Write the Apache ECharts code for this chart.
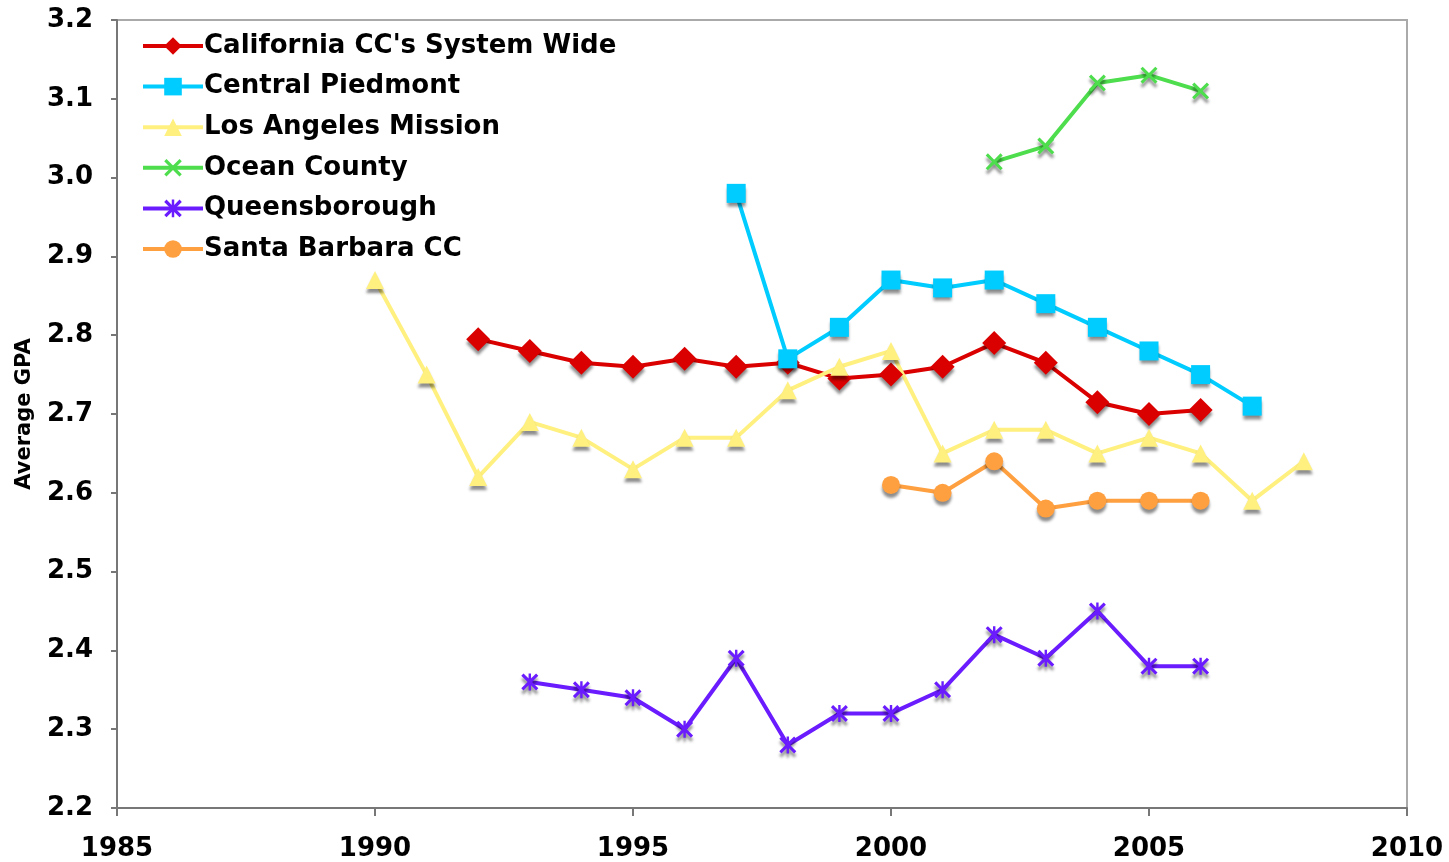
<!DOCTYPE html>
<html>
<head>
<meta charset="utf-8">
<script src="https://cdn.jsdelivr.net/npm/echarts@6/dist/echarts.min.js"></script>
<style>
  html, body { margin: 0; padding: 0; background: #fff; }
  #chart { width: 1449px; height: 862px; }
</style>
</head>
<body>
<div id="chart"></div>
<script>
const caliYears = [1992, 1993, 1994, 1995, 1996, 1997, 1998, 1999, 2000, 2001, 2002, 2003, 2004, 2005, 2006]
const caliGpa = [2.795, 2.78, 2.765, 2.76, 2.77, 2.76, 2.765, 2.745, 2.75, 2.76, 2.79, 2.765, 2.715, 2.70, 2.705]

const piedmontYears = [1997, 1998, 1999, 2000, 2001, 2002, 2003, 2004, 2005, 2006, 2007]
const piedmontGpa = [2.98, 2.77, 2.81, 2.87, 2.86, 2.87, 2.84, 2.81, 2.78, 2.75, 2.71]

const missionYears = [1990, 1991, 1992, 1993, 1994, 1995, 1996, 1997, 1998, 1999, 2000, 2001, 2002, 2003, 2004, 2005, 2006, 2007, 2008]
const missionGpa = [2.87, 2.75, 2.62, 2.69, 2.67, 2.63, 2.67, 2.67, 2.73, 2.76, 2.78, 2.65, 2.68, 2.68, 2.65, 2.67, 2.65, 2.59, 2.64]

const oceanYears = [2002, 2003, 2004, 2005, 2006]
const oceanGpa = [3.02, 3.04, 3.12, 3.13, 3.11]

const queensYears = [1993, 1994, 1995, 1996, 1997, 1998, 1999, 2000, 2001, 2002, 2003, 2004, 2005, 2006]
const queensGpa = [2.36, 2.35, 2.34, 2.30, 2.39, 2.28, 2.32, 2.32, 2.35, 2.42, 2.39, 2.45, 2.38, 2.38]

const barbaraYears = [2000, 2001, 2002, 2003, 2004, 2005, 2006]
const barbaraGpa = [2.61, 2.60, 2.64, 2.58, 2.59, 2.59, 2.59]

const seriesNames = [
  "California CC's System Wide",
  'Central Piedmont',
  'Los Angeles Mission',
  'Ocean County',
  'Queensborough',
  'Santa Barbara CC',
]

const xSymbol = 'path://M0,1.3L1.3,0L5,3.7L8.7,0L10,1.3L6.3,5L10,8.7L8.7,10L5,6.3L1.3,10L0,8.7L3.7,5Z'
const starSymbol = 'path://M0,1.3L1.3,0L4.3,3L4.3,0L5.7,0L5.7,3L8.7,0L10,1.3L6.3,5L10,8.7L8.7,10L5.7,7L5.7,10L4.3,10L4.3,7L1.3,10L0,8.7L3.7,5Z'

const font = '"DejaVu Sans", Verdana, sans-serif'

function pairs(xs, ys) {
  return xs.map((x, i) => [x, ys[i]])
}

const shadow = {
  shadowColor: 'rgba(0, 0, 0, 0.45)',
  shadowBlur: 3,
  shadowOffsetY: 4,
}

function makeSeries(name, data, color, symbol, size) {
  return {
    name,
    type: 'line',
    data,
    symbol,
    symbolSize: size,
    lineStyle: { color, width: 4 },
    itemStyle: { color, ...shadow },
    emphasis: { disabled: true },
    z: 3,
  }
}

const chart = echarts.init(document.getElementById('chart'))

chart.setOption({
  animation: false,
  backgroundColor: '#fff',
  grid: {
    left: 117,
    right: 42,
    top: 20,
    bottom: 54,
    show: true,
    borderColor: '#aaa',
    borderWidth: 2,
  },
  legend: {
    orient: 'vertical',
    left: 136,
    top: 28,
    itemWidth: 60,
    itemHeight: 22,
    itemGap: 14.6,
    textStyle: {
      fontFamily: font,
      fontWeight: 'bold',
      fontSize: 26,
      lineHeight: 26,
      color: '#000',
      padding: [0, 0, 0, -4],
    },
    lineStyle: { width: 4 },
    itemStyle: { shadowBlur: 0, shadowOffsetY: 0, shadowColor: 'transparent' },
    data: seriesNames,
  },
  xAxis: {
    type: 'value',
    min: 1985,
    max: 2010,
    interval: 5,
    splitLine: { show: false },
    axisLine: { show: true, lineStyle: { color: '#777', width: 2 } },
    axisTick: { show: true, length: 8, lineStyle: { color: '#777', width: 2 } },
    axisLabel: {
      fontFamily: font,
      fontWeight: 'bold',
      fontSize: 26,
      color: '#000',
      margin: 28,
      formatter: (v) => String(v),
    },
  },
  yAxis: {
    type: 'value',
    min: 2.2,
    max: 3.2,
    interval: 0.1,
    name: 'Average GPA',
    nameLocation: 'middle',
    nameRotate: 90,
    nameGap: 82,
    nameTextStyle: { fontFamily: font, fontWeight: 'bold', fontSize: 21, color: '#000' },
    splitLine: { show: false },
    axisLine: { show: true, lineStyle: { color: '#777', width: 2 } },
    axisTick: { show: true, length: 6, lineStyle: { color: '#777', width: 2 } },
    axisLabel: {
      fontFamily: font,
      fontWeight: 'bold',
      fontSize: 26,
      color: '#000',
      margin: 24,
      formatter: (v) => v.toFixed(1),
    },
  },
  series: [
    makeSeries(seriesNames[0], pairs(caliYears, caliGpa), '#db0000', 'diamond', 24),
    makeSeries(seriesNames[1], pairs(piedmontYears, piedmontGpa), '#00ccff', 'rect', 19),
    makeSeries(seriesNames[2], pairs(missionYears, missionGpa), '#fff07f', 'triangle', 18),
    makeSeries(seriesNames[3], pairs(oceanYears, oceanGpa), '#4ddd4d', xSymbol, 17),
    makeSeries(seriesNames[4], pairs(queensYears, queensGpa), '#6a1cff', starSymbol, 17),
    makeSeries(seriesNames[5], pairs(barbaraYears, barbaraGpa), '#ffa040', 'circle', 18),
  ],
})
</script>
</body>
</html>
